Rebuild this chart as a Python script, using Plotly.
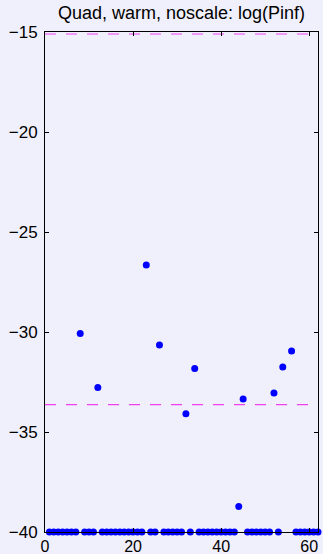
import plotly.graph_objects as go

# Iteration index and log(Pinf) per iteration (None = not shown)
iters = list(range(1, 63))
log_pinf = [
    -40, -40, -40, -40, -40, -40, -40, -30.07, -40, -40,     # 1-10
    -40, -32.77, -40, -40, -40, -40, -40, -40, -40, -40,     # 11-20
    -40, -40, -26.65, -40, -40, -30.65, -40, -40, -40, -40,  # 21-30
    -40, -34.09, -40, -31.82, -40, -40, -40, -40, -40, -40,  # 31-40
    -40, -40, -40, -38.73, -33.35, -40, -40, -40, -40, -40,  # 41-50
    -40, -33.05, -40, -31.75, None, -30.95, -40, -40, -40, -40,  # 51-60
    -40, -40,                                                # 61-62
]

# Reference levels drawn as dashed lines
ref_levels = [-15.1, -33.63]
ref_span = [0, 62]

x_ticks = [0, 20, 40, 60]
y_ticks = [-40, -35, -30, -25, -20, -15]

bg = "rgb(240,240,252)"
family = "Liberation Sans, Arial, sans-serif"
tick_font = dict(family=family, size=17, color="black")

fig = go.Figure()

for lvl in ref_levels:
    fig.add_trace(go.Scatter(
        x=ref_span, y=[lvl, lvl], mode="lines",
        line=dict(color="#F040F0", width=1.2, dash="11px,10px"),
        hoverinfo="skip", showlegend=False,
    ))

fig.add_trace(go.Scatter(
    x=iters, y=log_pinf, mode="markers",
    marker=dict(color="#0000FF", size=7, line=dict(width=0)),
    cliponaxis=False, showlegend=False,
))

axis_common = dict(
    showline=True, linecolor="black", linewidth=1, mirror="ticks",
    ticks="inside", ticklen=4, tickcolor="black", tickwidth=1,
    showgrid=False, zeroline=False, automargin=False,
)

fig.update_layout(
    width=323, height=554,
    margin=dict(l=45, r=5, t=32, b=22),
    paper_bgcolor=bg, plot_bgcolor=bg,
    font=tick_font,
    title=dict(text="Quad, warm, noscale: log(Pinf)", x=0.5, xanchor="center",
               xref="paper", y=1 - 13 / 554, yanchor="middle",
               font=dict(family=family, size=18, color="black")),
    xaxis=dict(range=[0, 62], tickvals=x_ticks, ticklabelstandoff=0,
               tickfont=dict(family=family, size=16, color="black"), **axis_common),
    yaxis=dict(range=[-40, -15], tickvals=y_ticks, ticklabelstandoff=3,
               tickfont=tick_font, **axis_common),
)

fig.write_html("out.html")
